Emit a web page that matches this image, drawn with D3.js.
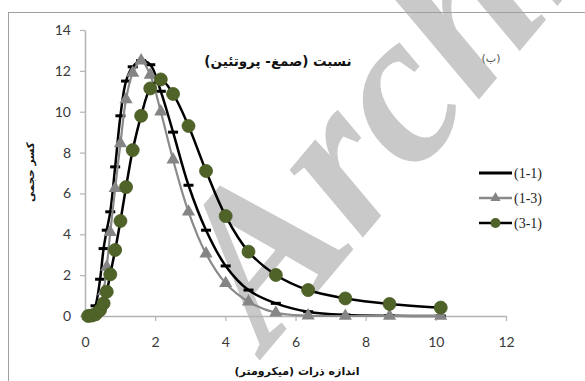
<!DOCTYPE html>
<html>
<head>
<meta charset="utf-8">
<script src="https://cdn.jsdelivr.net/npm/d3@7"></script>
<style>
  html, body { margin: 0; padding: 0; background: #fff; }
  svg { display: block; }
</style>
</head>
<body>
<div id="chart"></div>
<script>
// Particle size classes (µm), shared by all three ratios
const sizes = [0.09, 0.19, 0.30, 0.43, 0.53, 0.62, 0.72, 0.86, 1.01, 1.17, 1.36, 1.60,
               1.86, 2.16, 2.51, 2.95, 3.45, 4.01, 4.66, 5.44, 6.36, 7.42, 8.68, 10.14];

// Volume fraction (%) for each gum : protein ratio
const ratio11 = [0, 0.1, 0.5, 1.8, 3.3, 4.2, 5.1, 7.3, 9.8, 11.5, 12.2, 12.5,
                 12.3, 11.0, 9.0, 6.4, 4.2, 2.45, 1.27, 0.62, 0.21, 0.05, 0.01, 0];
const ratio13 = [0, 0.02, 0.1, 0.45, 1.2, 2.4, 4.1, 6.25, 8.45, 10.6, 11.9, 12.5,
                 11.8, 10.0, 7.65, 5.1, 3.05, 1.6, 0.7, 0.16, 0.02, 0, 0, 0];
const ratio31 = [0, 0.02, 0.08, 0.29, 0.62, 1.19, 2.04, 3.23, 4.65, 6.31, 8.12, 9.8,
                 11.14, 11.58, 10.87, 9.3, 7.1, 4.89, 3.15, 2.01, 1.27, 0.86, 0.59, 0.41];

const seriesNames = ["(1-1)", "(1-3)", "(3-1)"];
const xTicks = [0, 2, 4, 6, 8, 10, 12];
const yTicks = [0, 2, 4, 6, 8, 10, 12, 14];

const titleText = "نسبت (صمغ- پروتئین)";
const panelText = "(ب)";
const xTitle = "اندازه ذرات (میکرومتر)";
const yTitle = "کسر حجمی";

const W = 585, H = 381;
const svg = d3.select("#chart").append("svg").attr("width", W).attr("height", H);

// faint watermark behind the chart
svg.append("text")
  .attr("transform", "translate(267,352) rotate(-50)")
  .attr("font-family", "Liberation Serif")
  .attr("font-style", "italic").attr("font-weight", "bold")
  .attr("font-size", 217).attr("fill", "#c9c9c9")
  .text("Archive");

// chart frame
svg.append("rect").attr("x", 8.5).attr("y", 12.5).attr("width", 700).attr("height", 500)
  .attr("fill", "none").attr("stroke", "#a0a0a0").attr("stroke-width", 1);

const x = d3.scaleLinear().domain([0, 12]).range([85, 506]);
const y = d3.scaleLinear().domain([0, 14]).range([316, 30]);

const axisColor = "#b3b3b3";
const tickFont = "Lato, 'Liberation Sans', sans-serif";

const gx = svg.append("g").attr("transform", `translate(0,${y(0)})`)
  .call(d3.axisBottom(x).tickValues(xTicks).tickSize(5).tickSizeOuter(0).tickPadding(16));
const gy = svg.append("g").attr("transform", `translate(${x(0)},0)`)
  .call(d3.axisLeft(y).tickValues(yTicks).tickSize(5).tickSizeOuter(0).tickPadding(9));
[gx, gy].forEach(g => {
  g.select(".domain").attr("stroke", axisColor).attr("stroke-width", 1.5);
  g.selectAll(".tick line").attr("stroke", axisColor).attr("stroke-width", 1.2);
  g.selectAll(".tick text").attr("font-family", tickFont).attr("font-size", 14).attr("fill", "#3a3a3a");
});

const line = d3.line().x(d => x(d[0])).y(d => y(d[1])).curve(d3.curveCatmullRom.alpha(0.5));
const pts = vals => sizes.map((s, i) => [s, vals[i]]);

// (1-1): black line, dash markers
svg.append("path").datum(pts(ratio11)).attr("d", line)
  .attr("fill", "none").attr("stroke", "#000").attr("stroke-width", 2.5);
svg.append("g").selectAll("rect").data(pts(ratio11)).join("rect")
  .attr("x", d => x(d[0]) - 5).attr("y", d => y(d[1]) - 1.5)
  .attr("width", 10).attr("height", 3).attr("fill", "#000");

// (1-3): grey line, triangle markers
const tri = d3.symbol().type(d3.symbolTriangle).size(75);
svg.append("path").datum(pts(ratio13)).attr("d", line)
  .attr("fill", "none").attr("stroke", "#8a8a8a").attr("stroke-width", 2.2);
svg.append("g").selectAll("path").data(pts(ratio13)).join("path")
  .attr("d", tri).attr("transform", d => `translate(${x(d[0])},${y(d[1])})`)
  .attr("fill", "#858585");

// (3-1): black line, green circle markers
svg.append("path").datum(pts(ratio31)).attr("d", line)
  .attr("fill", "none").attr("stroke", "#000").attr("stroke-width", 2.5);
svg.append("g").selectAll("circle").data(pts(ratio31)).join("circle")
  .attr("cx", d => x(d[0])).attr("cy", d => y(d[1])).attr("r", 6.5)
  .attr("fill", "#4f6228").attr("stroke", "#4a5d25").attr("stroke-width", 0.8);

// title and panel letter
svg.append("text").attr("x", 278).attr("y", 66).attr("text-anchor", "middle")
  .attr("direction", "rtl").attr("font-family", "DejaVu Sans").attr("font-weight", "bold")
  .attr("font-size", 13.5).attr("fill", "#111").text(titleText);
svg.append("text").attr("x", 491).attr("y", 62).attr("text-anchor", "middle")
  .attr("direction", "rtl").attr("font-family", "DejaVu Sans")
  .attr("font-size", 11).attr("fill", "#555").text(panelText);

// axis titles
svg.append("text").attr("x", 297).attr("y", 375).attr("text-anchor", "middle")
  .attr("direction", "rtl").attr("font-family", "DejaVu Sans").attr("font-weight", "bold")
  .attr("font-size", 11).attr("fill", "#111").text(xTitle);
svg.append("text").attr("transform", "translate(34,172) rotate(-90)").attr("text-anchor", "middle")
  .attr("direction", "rtl").attr("font-family", "DejaVu Sans").attr("font-weight", "bold")
  .attr("font-size", 10.5).attr("fill", "#111").text(yTitle);

// legend
const legend = svg.append("g");
const rows = [
  { name: seriesNames[0], stroke: "#000", marker: "none" },
  { name: seriesNames[1], stroke: "#8a8a8a", marker: "tri" },
  { name: seriesNames[2], stroke: "#000", marker: "circle" }
];
rows.forEach((r, i) => {
  const ly = 173 + i * 25;
  legend.append("line").attr("x1", 479).attr("x2", 512).attr("y1", ly).attr("y2", ly)
    .attr("stroke", r.stroke).attr("stroke-width", i === 0 ? 3 : 2.5);
  if (r.marker === "tri") {
    legend.append("path").attr("d", d3.symbol().type(d3.symbolTriangle).size(45))
      .attr("transform", `translate(495.5,${ly})`).attr("fill", "#858585");
  } else if (r.marker === "circle") {
    legend.append("circle").attr("cx", 495.5).attr("cy", ly).attr("r", 5).attr("fill", "#4f6228");
  }
  legend.append("text").attr("x", 514).attr("y", ly + 5)
    .attr("font-family", "'Liberation Serif', serif").attr("font-size", 14).attr("fill", "#222")
    .text(r.name);
});
</script>
</body>
</html>
